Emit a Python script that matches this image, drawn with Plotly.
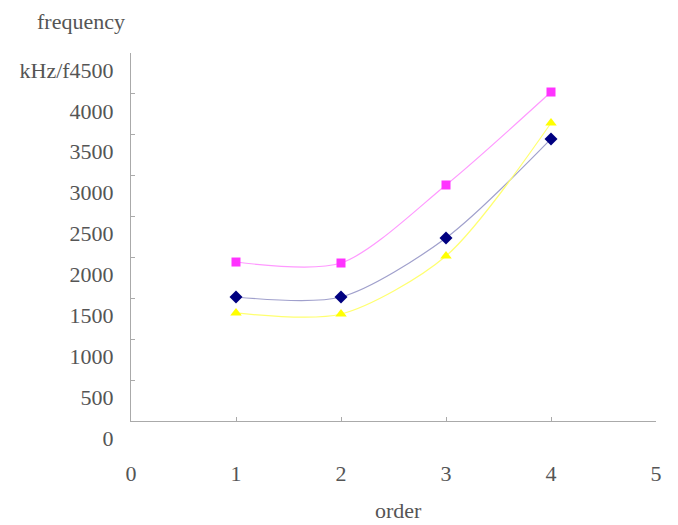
import plotly.graph_objects as go

order = [1, 2, 3, 4]
series_pink = [1944, 1932, 2886, 4023]
series_navy = [1516, 1516, 2238, 3449]
series_yellow = [1321, 1308, 2018, 3644]

y_tickvals = [0, 500, 1000, 1500, 2000, 2500, 3000, 3500, 4000, 4500]
y_ticktext = ["0", "500", "1000", "1500", "2000", "2500", "3000", "3500", "4000", "kHz/f4500"]
x_tickvals = [0, 1, 2, 3, 4, 5]

FONT = "Liberation Serif"
TXT = "#555555"
AX = "#aaaaaa"
FS = 22

fig = go.Figure()
fig.add_trace(go.Scatter(x=order, y=series_pink, mode="lines+markers",
                         line=dict(color="#ff99ff", width=1.2, shape="spline", smoothing=0.8),
                         marker=dict(symbol="square", size=9, color="#ff33ff")))
fig.add_trace(go.Scatter(x=order, y=series_navy, mode="lines+markers",
                         line=dict(color="#a0a0cc", width=1.2, shape="spline", smoothing=0.8),
                         marker=dict(symbol="diamond", size=10, color="#000080")))
fig.add_trace(go.Scatter(x=order, y=series_yellow, mode="lines+markers",
                         line=dict(color="#ffff70", width=1.2, shape="spline", smoothing=0.8),
                         marker=dict(symbol="triangle-up", size=10, color="#ffff00")))

OFF = 8  # page body margin
W, H = 678 - OFF, 525 - OFF
L, R, T, B = 131 - OFF, 22, 53 - OFF, 104
pw, ph = W - L - R, H - T - B


def px_x(x):
    return (x - OFF - L) / pw


def px_y(y):
    return (H - B - (y - OFF)) / ph


fig.update_layout(
    width=W, height=H, showlegend=False,
    margin=dict(l=L, r=R, t=T, b=B),
    paper_bgcolor="white", plot_bgcolor="white",
    font=dict(family=FONT, size=FS, color=TXT),
    xaxis=dict(range=[0, 5], tickvals=x_tickvals, showgrid=False, zeroline=False,
               showline=True, linecolor=AX, linewidth=1, automargin=False,
               ticks="inside", ticklen=4, tickcolor=AX,
               ticklabelstandoff=33, tickfont=dict(family=FONT, size=FS, color=TXT)),
    yaxis=dict(range=[0, 4500], tickvals=y_tickvals, ticktext=y_ticktext,
               showgrid=False, zeroline=False, automargin=False,
               showline=True, linecolor=AX, linewidth=1,
               ticks="inside", ticklen=4, tickcolor=AX,
               ticklabelshift=17, ticklabelstandoff=12,
               tickfont=dict(family=FONT, size=FS, color=TXT)),
    annotations=[
        dict(text="frequency", xref="paper", yref="paper",
             x=px_x(81), y=px_y(8), showarrow=False, borderpad=0,
             xanchor="center", yanchor="top", font=dict(family=FONT, size=FS, color=TXT)),
        dict(text="order", xref="paper", yref="paper",
             x=px_x(398), y=px_y(510), showarrow=False,
             xanchor="center", yanchor="middle", font=dict(family=FONT, size=FS, color=TXT)),
    ],
)

fig.write_html("out.html")
